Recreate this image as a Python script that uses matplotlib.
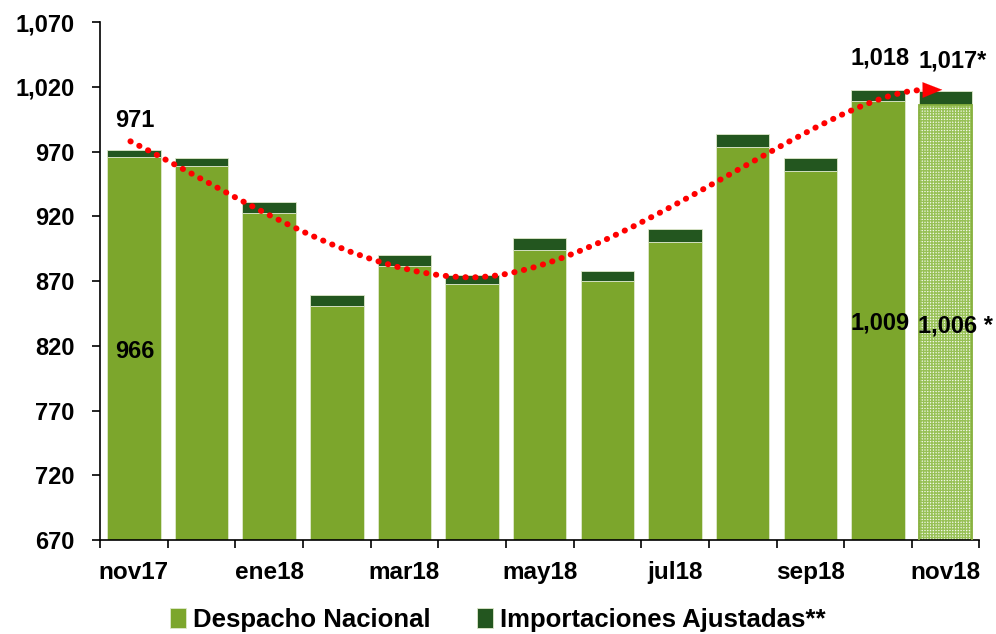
import numpy as np
import matplotlib
matplotlib.use('Agg')
import matplotlib.pyplot as plt
from matplotlib.path import Path
from matplotlib.patches import PathPatch

plt.rcParams['font.family'] = ['Liberation Sans', 'DejaVu Sans']
plt.rcParams['hatch.linewidth'] = 1.0

# Data (miles de barriles por dia)
months = ['nov17', 'dic17', 'ene18', 'feb18', 'mar18', 'abr18', 'may18',
          'jun18', 'jul18', 'ago18', 'sep18', 'oct18', 'nov18']
despacho = [966, 959, 923, 851, 882, 868, 894, 870, 900, 974, 955, 1009, 1006]
importaciones = [5, 6, 8, 8, 8, 7, 9, 8, 10, 10, 10, 9, 11]

light = '#7ca62c'
dark = '#23561f'

fig = plt.figure(figsize=(9.96, 6.34), dpi=100)
ax = fig.add_axes([0.1004, 0.148, 0.883, 0.817])

x = np.arange(len(months))
w = 0.79
b1 = ax.bar(x, despacho, w, bottom=0, color=light, edgecolor='#dfe9cc', linewidth=0.6, zorder=2)
b2 = ax.bar(x, importaciones, w, bottom=despacho, color=dark, edgecolor='#dfe9cc', linewidth=0.6, zorder=2)

# last month is preliminary: grid pattern on the light part
b1[-1].set_facecolor('#f4f9ec')
b1[-1].set_edgecolor('#98c157')
b1[-1].set_hatch('++++++')
b1[-1].set_linewidth(0)
ax.bar(x[-1:], despacho[-1:], w, fill=False, edgecolor='#86b03c', linewidth=1.3, zorder=3)

total = [d + i for d, i in zip(despacho, importaciones)]

# trend curve (dotted red) with arrow head
verts = [(-0.05, 978), (1.5, 937.5), (3.3, 873), (5.0, 873),
         (7.0, 873), (10.2, 1015), (11.65, 1017.6)]
codes = [Path.MOVETO, Path.CURVE4, Path.CURVE4, Path.CURVE4,
         Path.CURVE4, Path.CURVE4, Path.CURVE4]
trend = PathPatch(Path(verts, codes), fill=False, edgecolor='red', lw=4.3,
                  linestyle=(0, (0.05, 1.6)), zorder=4)
trend.set_capstyle('round')
ax.add_patch(trend)
ax.annotate('', xy=(11.95, 1017.8), xytext=(11.6, 1017.6),
            arrowprops=dict(arrowstyle='-|>,head_length=0.7,head_width=0.28',
                            mutation_scale=20, color='red', lw=0.1,
                            shrinkA=0, shrinkB=0), zorder=5)

lab = dict(fontsize=17, fontweight='bold', ha='center', va='center', zorder=6)
ax.text(0.02, 994, '971', **lab)
ax.text(0.02, 816, '966', **lab)
ax.text(11.03, 1042.6, '1,018', **lab)
ax.text(12.1, 1040.3, '1,017*', **lab)
ax.text(11.03, 838, '1,009', **lab)
ax.text(12.15, 835.6, '1,006 *', **lab)

ax.set_ylim(670, 1070)
ax.set_xlim(-0.5, 12.5)
yt = np.arange(670, 1071, 50)
ax.set_yticks(yt)
ax.set_yticklabels([f'{v:,}' for v in yt], fontsize=17, fontweight='bold')

ax.set_xticks(np.arange(-0.5, 13, 1))
ax.set_xticklabels([])
ax.set_xticks(x[::2], minor=True)
ax.set_xticklabels(months[::2], minor=True, fontsize=17.5, fontweight='bold')
ax.tick_params(axis='x', which='major', direction='out', length=5.5, width=1.2)
ax.tick_params(axis='x', which='minor', length=0, pad=15)
ax.tick_params(axis='y', direction='out', length=5.5, width=1.2, pad=13)

for s in ['top', 'right']:
    ax.spines[s].set_visible(False)
for s in ['left', 'bottom']:
    ax.spines[s].set_linewidth(1.2)

leg = fig.legend([b1[0], b2[0]], ['Despacho Nacional', 'Importaciones Ajustadas**'],
                 loc='center', bbox_to_anchor=(0.5, 0.022), ncol=2, frameon=False,
                 prop=dict(size=18.5, weight='bold'), handlelength=0.6, handleheight=0.8,
                 handletextpad=0.3, columnspacing=1.8, borderpad=0.1)

fig.savefig('out.png', dpi=100)
